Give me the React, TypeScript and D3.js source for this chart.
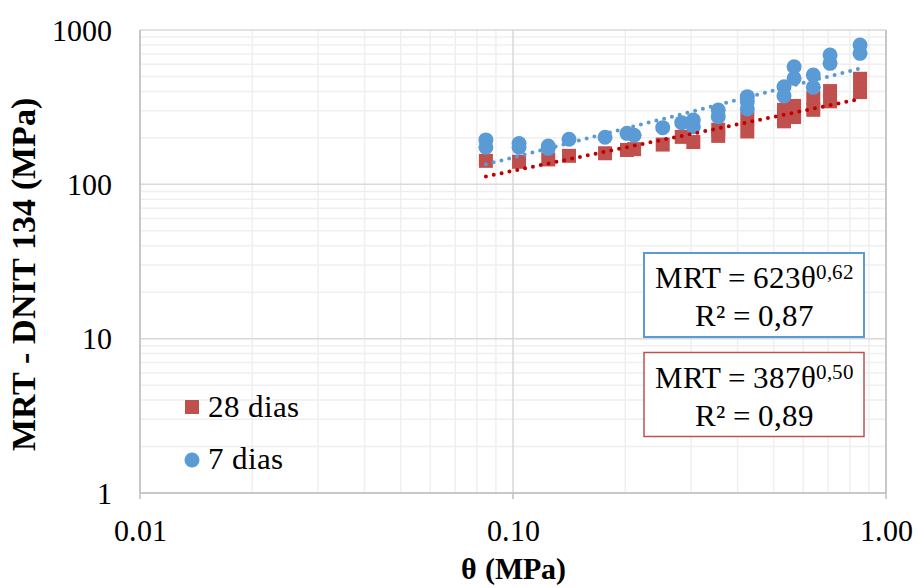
import React, { useEffect, useState } from "react";
import * as d3 from "d3";

// θ (MPa) e MRT (MPa)
const theta28 = [0.0846, 0.1038, 0.1243, 0.1413, 0.1765, 0.2021, 0.2112, 0.252, 0.2834, 0.3044, 0.355, 0.355, 0.4248, 0.4248, 0.5328, 0.5328, 0.5671, 0.5671, 0.6384, 0.6384, 0.708, 0.708, 0.852, 0.852];
const mrt28 = [142, 140, 145, 153, 159, 167, 169, 181, 203, 188, 226, 206, 266, 220, 304, 256, 322, 273, 362, 304, 402, 345, 483, 396];

const theta7 = [0.0846, 0.0846, 0.1038, 0.1038, 0.1243, 0.1243, 0.1413, 0.1765, 0.2021, 0.2112, 0.252, 0.2834, 0.3044, 0.3044, 0.355, 0.355, 0.4248, 0.4248, 0.4248, 0.5328, 0.5328, 0.5671, 0.5671, 0.6384, 0.6384, 0.708, 0.708, 0.852, 0.852];
const mrt7 = [194, 174, 184, 174, 177, 171, 196, 202, 214, 208, 233, 251, 261, 236, 303, 274, 370, 343, 308, 429, 374, 578, 486, 511, 425, 689, 608, 799, 706];

// ajustes de potência: MRT = a·θ^b
const fit7 = { a: 623, b: 0.62, r2: "0,87", exp: "0,62" };
const fit28 = { a: 387, b: 0.5, r2: "0,89", exp: "0,50" };

const xTickLabels = ["0.01", "0.10", "1.00"];
const yTickLabels = ["1", "10", "100", "1000"];

const BLUE = "#5b9bd5";
const RED = "#c0504d";
const RED_LINE = "#c00000";
const FONT = '"RefSerif", "Liberation Serif", "DejaVu Serif", serif';
const FONT_FACE = `
@font-face { font-family: "RefSerif"; src: local("Liberation Serif"), local("LiberationSerif"), local("LiberationSerif-Regular"); font-weight: 400; }
@font-face { font-family: "RefSerif"; src: local("Liberation Serif Bold"), local("LiberationSerif-Bold"); font-weight: 700; }
`;

const W = 918;
const H = 587;

export default function App() {
  // refaz o layout dos textos depois que as fontes estiverem prontas
  const [fontKey, setFontKey] = useState(0);
  useEffect(() => {
    const fs = (document as any).fonts;
    if (!fs) return;
    Promise.all([fs.load('30px "RefSerif"'), fs.load('bold 30px "RefSerif"')])
      .catch(() => null)
      .then(() => setFontKey((k) => k + 1));
  }, []);

  const x = d3.scaleLog().domain([0.01, 1]).range([140, 886]);
  const y = d3.scaleLog().domain([1, 1000]).range([493, 30]);

  const isMajor = (v: number) => Math.abs(Math.log10(v) - Math.round(Math.log10(v))) < 1e-9;
  const xGrid = x.ticks();
  const yGrid = y.ticks();

  // curva de tendência
  const trend = (fit: { a: number; b: number }, xs: number[]) => {
    const lo = d3.min(xs) as number;
    const hi = d3.max(xs) as number;
    const pts = d3.range(0, 61).map((i) => lo * Math.pow(hi / lo, i / 60));
    return d3
      .line<number>()
      .x((d) => x(d))
      .y((d) => y(fit.a * Math.pow(d, fit.b)))(pts) as string;
  };

  const sq = 14;
  const txt = { fontFamily: FONT };

  return (
    <svg width={W} height={H} style={{ position: "absolute", left: 0, top: 0 }}>
      <style>{FONT_FACE}</style>
      <rect width={W} height={H} fill="#fff" />
      {/* grade menor */}
      {xGrid.filter((v) => !isMajor(v)).map((v, i) => (
        <line key={"xm" + i} x1={x(v)} x2={x(v)} y1={y(1)} y2={y(1000)} stroke="#efefef" strokeWidth={1.5} />
      ))}
      {yGrid.filter((v) => !isMajor(v)).map((v, i) => (
        <line key={"ym" + i} x1={x(0.01)} x2={x(1)} y1={y(v)} y2={y(v)} stroke="#efefef" strokeWidth={1.5} />
      ))}
      {/* grade maior */}
      {xGrid.filter(isMajor).map((v, i) => (
        <line key={"xM" + i} x1={x(v)} x2={x(v)} y1={y(1)} y2={y(1000)} stroke="#d9d9d9" strokeWidth={1.5} />
      ))}
      {yGrid.filter(isMajor).map((v, i) => (
        <line key={"yM" + i} x1={x(0.01)} x2={x(1)} y1={y(v)} y2={y(v)} stroke="#d9d9d9" strokeWidth={1.5} />
      ))}
      {/* eixos */}
      <line x1={x(0.01)} x2={x(1)} y1={y(1)} y2={y(1)} stroke="#bfbfbf" strokeWidth={1.5} />
      <line x1={x(0.01)} x2={x(0.01)} y1={y(1)} y2={y(1000)} stroke="#bfbfbf" strokeWidth={1.5} />
      <line x1={x(1)} x2={x(1)} y1={y(1)} y2={y(1000)} stroke="#bfbfbf" strokeWidth={1.5} />
      {xGrid.filter(isMajor).map((v, i) => (
        <line key={"xt" + i} x1={x(v)} x2={x(v)} y1={y(1)} y2={y(1) + 6} stroke="#bfbfbf" strokeWidth={1.5} />
      ))}

      {/* pontos */}
      {theta28.map((t, i) => (
        <rect key={"s" + i} x={x(t) - sq / 2} y={y(mrt28[i]) - sq / 2} width={sq} height={sq} fill={RED} />
      ))}
      {theta7.map((t, i) => (
        <circle key={"c" + i} cx={x(t)} cy={y(mrt7[i])} r={7.5} fill={BLUE} />
      ))}

      {/* tendências */}
      <path d={trend(fit28, theta28)} fill="none" stroke={RED_LINE} strokeWidth={4} strokeLinecap="round" strokeDasharray="0 8" />
      <path d={trend(fit7, theta7)} fill="none" stroke={BLUE} strokeWidth={4} strokeLinecap="round" strokeDasharray="0 8" />

      {/* legenda */}
      <rect x={192 - 7} y={407 - 7} width={14} height={14} fill={RED} />
      <circle cx={192} cy={460} r={7.5} fill={BLUE} />

      {/* caixas das equações */}
      <rect x={644} y={253} width={220} height={84} fill="#fff" stroke={BLUE} strokeWidth={2} />
      <rect x={644} y={352.5} width={220} height={84} fill="#fff" stroke={RED} strokeWidth={1.5} />

      <g key={fontKey}>
        {xTickLabels.map((t) => (
          <text key={t} x={x(+t)} y={541} fontSize={30} textAnchor="middle" style={txt}>
            {t}
          </text>
        ))}
        {yTickLabels.map((t) => (
          <text key={t} x={112} y={y(+t) + 10.5} fontSize={30} textAnchor="end" style={txt}>
            {t}
          </text>
        ))}
        <text x={x(0.1)} y={579} fontSize={30} fontWeight="bold" textAnchor="middle" style={txt}>
          {"θ (MPa)"}
        </text>
        <text
          transform={`translate(35,${(y(1) + y(1000)) / 2 + 13}) rotate(-90)`}
          fontSize={34}
          fontWeight="bold"
          textAnchor="middle"
          style={txt}
        >
          {"MRT - DNIT 134 (MPa)"}
        </text>

        <text x={208} y={417} fontSize={31} style={txt}>{"28 dias"}</text>
        <text x={208} y={469} fontSize={31} style={txt}>{"7 dias"}</text>

        {[
          { fit: fit7, top: 253 },
          { fit: fit28, top: 352.5 },
        ].map(({ fit, top }, i) => (
          <g key={"eq" + i}>
            <text x={754} y={top + 35} fontSize={31} textAnchor="middle" style={txt}>
              <tspan style={txt}>{`MRT = ${fit.a}θ`}</tspan>
              <tspan fontSize={21} dy={-9} style={txt}>{fit.exp}</tspan>
            </text>
            <text x={754} y={top + 73} fontSize={31} textAnchor="middle" style={txt}>
              {`R² = ${fit.r2}`}
            </text>
          </g>
        ))}
      </g>
    </svg>
  );
}
